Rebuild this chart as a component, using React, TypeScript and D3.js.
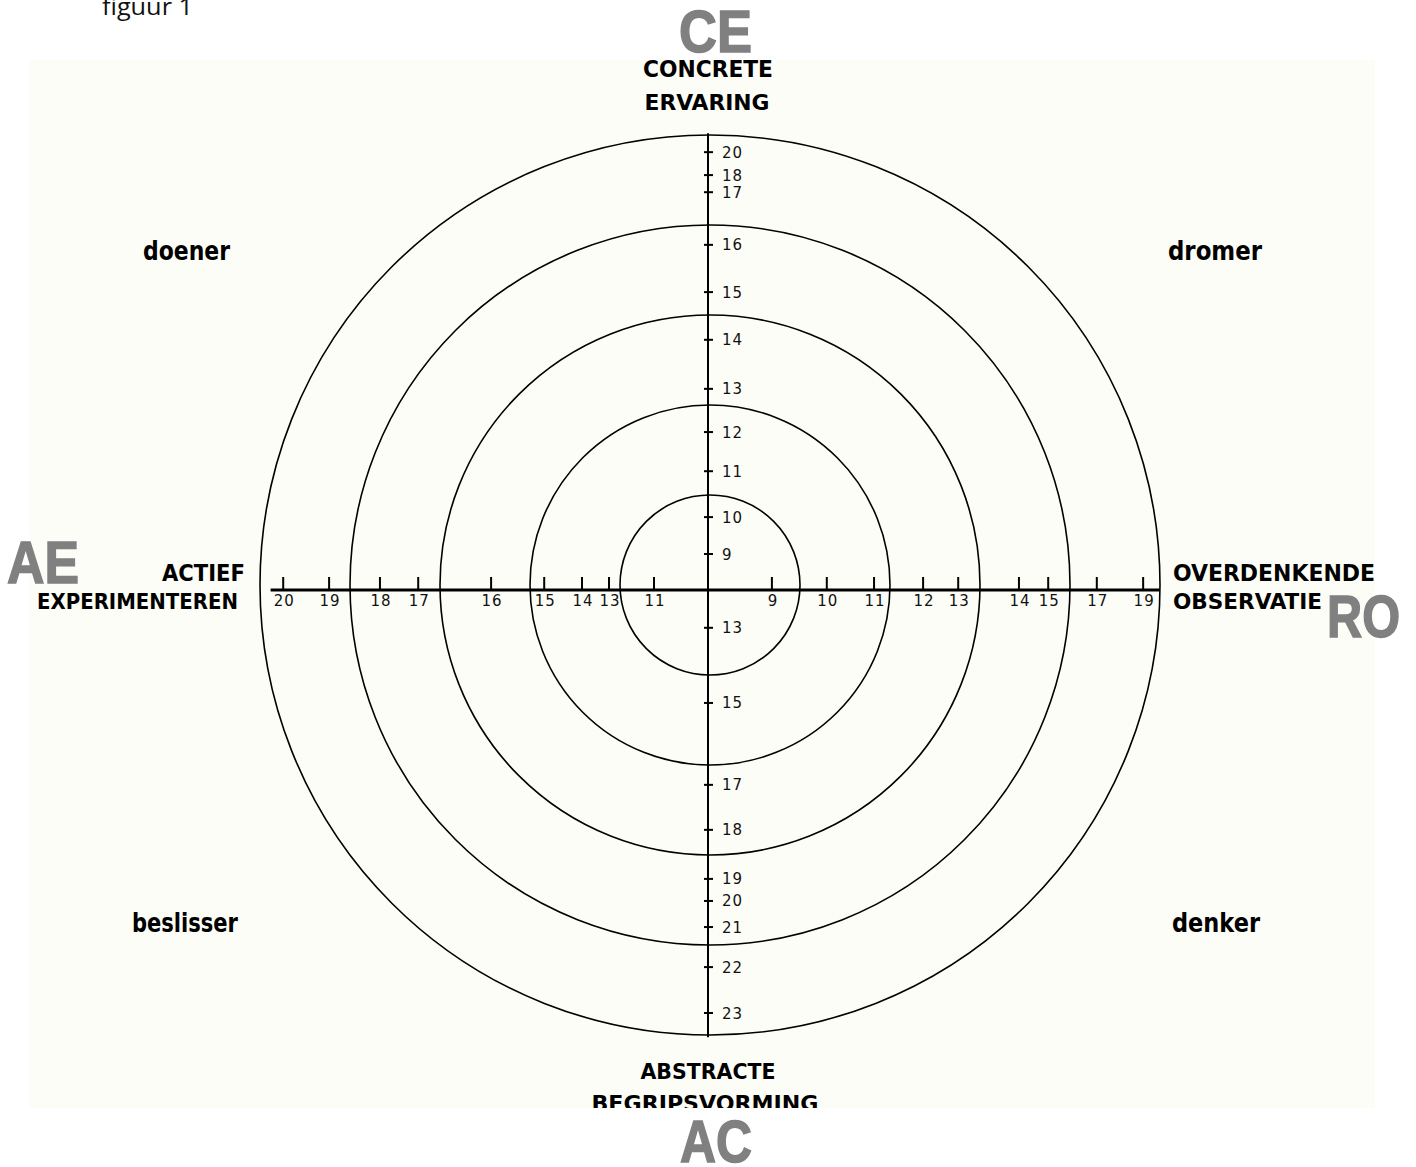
import React from "react";
import * as d3 from "d3";

// ring levels, as % of the outer ring
const rings = [20, 40, 60, 80, 100];

// tick values on each half-axis, with their radial position (% of outer ring)
const ceTicks = [9, 10, 11, 12, 13, 14, 15, 16, 17, 18, 20];
const cePos = [8.0, 16.2, 26.4, 35.1, 44.7, 55.6, 66.2, 76.7, 88.4, 92.2, 97.3];
const acTicks = [13, 15, 17, 18, 19, 20, 21, 22, 23];
const acPos = [8.4, 25.1, 43.3, 53.3, 64.2, 69.1, 74.9, 83.8, 94.0];
const aeTicks = [11, 13, 14, 15, 16, 17, 18, 19, 20];
const aePos = [12.0, 22.0, 28.0, 36.4, 48.2, 64.4, 72.9, 84.2, 94.4];
const roTicks = [9, 10, 11, 12, 13, 14, 15, 17, 19];
const roPos = [14.2, 26.4, 36.9, 47.8, 55.6, 69.1, 75.6, 86.4, 96.7];

const W = 1416;
const H = 1167;
const cx = 708; // axis crossing
const cy = 590;
const ringCx = 710; // circles sit slightly off the axes in the original
const ringCy = 585;

const r = d3.scaleLinear().domain([0, 100]).range([0, 450]);

const boldFont = "'DejaVu Sans Condensed', 'DejaVu Sans', sans-serif";
const tickFont = "'DejaVu Sans', sans-serif";
const bigFont = "'Liberation Sans', Arial, sans-serif";

function Label({ x, y, w, size, anchor = "start", fill = "#000", family = boldFont, weight = 700, stroke = "none", children }: any) {
  return (
    <text
      x={x}
      y={y}
      fontSize={size}
      fontFamily={family}
      fontWeight={weight}
      fill={fill}
      stroke={stroke}
      strokeWidth={stroke === "none" ? 0 : 1.5}
      textAnchor={anchor}
      textLength={w}
      lengthAdjust="spacingAndGlyphs"
    >
      {children}
    </text>
  );
}

export default function App() {
  const vTicks = [
    ...ceTicks.map((t, i) => ({ t, y: cy - r(cePos[i]) })),
    ...acTicks.map((t, i) => ({ t, y: cy + r(acPos[i]) })),
  ];
  const hTicks = [
    ...aeTicks.map((t, i) => ({ t, x: cx - r(aePos[i]) })),
    ...roTicks.map((t, i) => ({ t, x: cx + r(roPos[i]) })),
  ];

  return (
    <svg
      width={W}
      height={H}
      style={{ position: "absolute", left: 0, top: 0, display: "block" }}
    >
      <defs>
        <clipPath id="panel">
          <rect x={30} y={60} width={1345} height={1048} />
        </clipPath>
      </defs>
      <rect width={W} height={H} fill="#fff" />
      <text
        x={102}
        y={15}
        fontSize={23}
        fontFamily="'Open Sans', sans-serif"
        fill="#111"
        textLength={91}
        lengthAdjust="spacingAndGlyphs"
      >
        figuur 1
      </text>

      <g clipPath="url(#panel)">
        <rect x={30} y={60} width={1345} height={1048} fill="#fdfdf7" />

        {rings.map((d) => (
          <circle key={d} cx={ringCx} cy={ringCy} r={r(d)} fill="none" stroke="#000" strokeWidth={1.6} />
        ))}

        {/* axes */}
        <line x1={cx - r(97.2)} x2={cx + r(100.4)} y1={cy} y2={cy} stroke="#000" strokeWidth={3} />
        <line x1={cx} x2={cx} y1={cy - r(101.5)} y2={cy + r(99.4)} stroke="#000" strokeWidth={2} />

        {vTicks.map((d, i) => (
          <g key={"v" + i}>
            <line x1={cx - 4} x2={cx + 5} y1={d.y} y2={d.y} stroke="#000" strokeWidth={2} />
            <text x={722} y={d.y + 5.5} fontSize={15} fontFamily={tickFont} fill="#111" letterSpacing={1}>
              {d.t}
            </text>
          </g>
        ))}
        {hTicks.map((d, i) => (
          <g key={"h" + i}>
            <line x1={d.x} x2={d.x} y1={cy - 13} y2={cy} stroke="#000" strokeWidth={2} />
            <text x={d.x + 1} y={cy + 16} fontSize={15} fontFamily={tickFont} fill="#111" textAnchor="middle" letterSpacing={1}>
              {d.t}
            </text>
          </g>
        ))}

        {/* pole labels */}
        <Label x={708} y={77} w={130} size={23} anchor="middle">CONCRETE</Label>
        <Label x={707} y={110} w={125} size={22} anchor="middle">ERVARING</Label>
        <Label x={708} y={1079} w={135} size={22} anchor="middle">ABSTRACTE</Label>
        <Label x={705} y={1111} w={227} size={22} anchor="middle">BEGRIPSVORMING</Label>
        <Label x={245} y={581} w={83} size={23} anchor="end">ACTIEF</Label>
        <Label x={238} y={609} w={201} size={22} anchor="end">EXPERIMENTEREN</Label>
        <Label x={1173} y={581} w={202} size={23}>OVERDENKENDE</Label>
        <Label x={1173} y={609} w={149} size={22}>OBSERVATIE</Label>

        {/* quadrant labels */}
        <Label x={143} y={260} w={87} size={27}>doener</Label>
        <Label x={1168} y={260} w={94} size={27}>dromer</Label>
        <Label x={132} y={932} w={106} size={26}>beslisser</Label>
        <Label x={1172} y={932} w={88} size={26}>denker</Label>
      </g>

      {/* big pole codes */}
      <Label x={679} y={52} w={73} size={59} fill="#808080" stroke="#808080" family={bigFont}>CE</Label>
      <Label x={7} y={583} w={72} size={59} fill="#808080" stroke="#808080" family={bigFont}>AE</Label>
      <Label x={1327} y={637} w={73} size={59} fill="#808080" stroke="#808080" family={bigFont}>RO</Label>
      <Label x={680} y={1162} w={72} size={59} fill="#808080" stroke="#808080" family={bigFont}>AC</Label>
    </svg>
  );
}
